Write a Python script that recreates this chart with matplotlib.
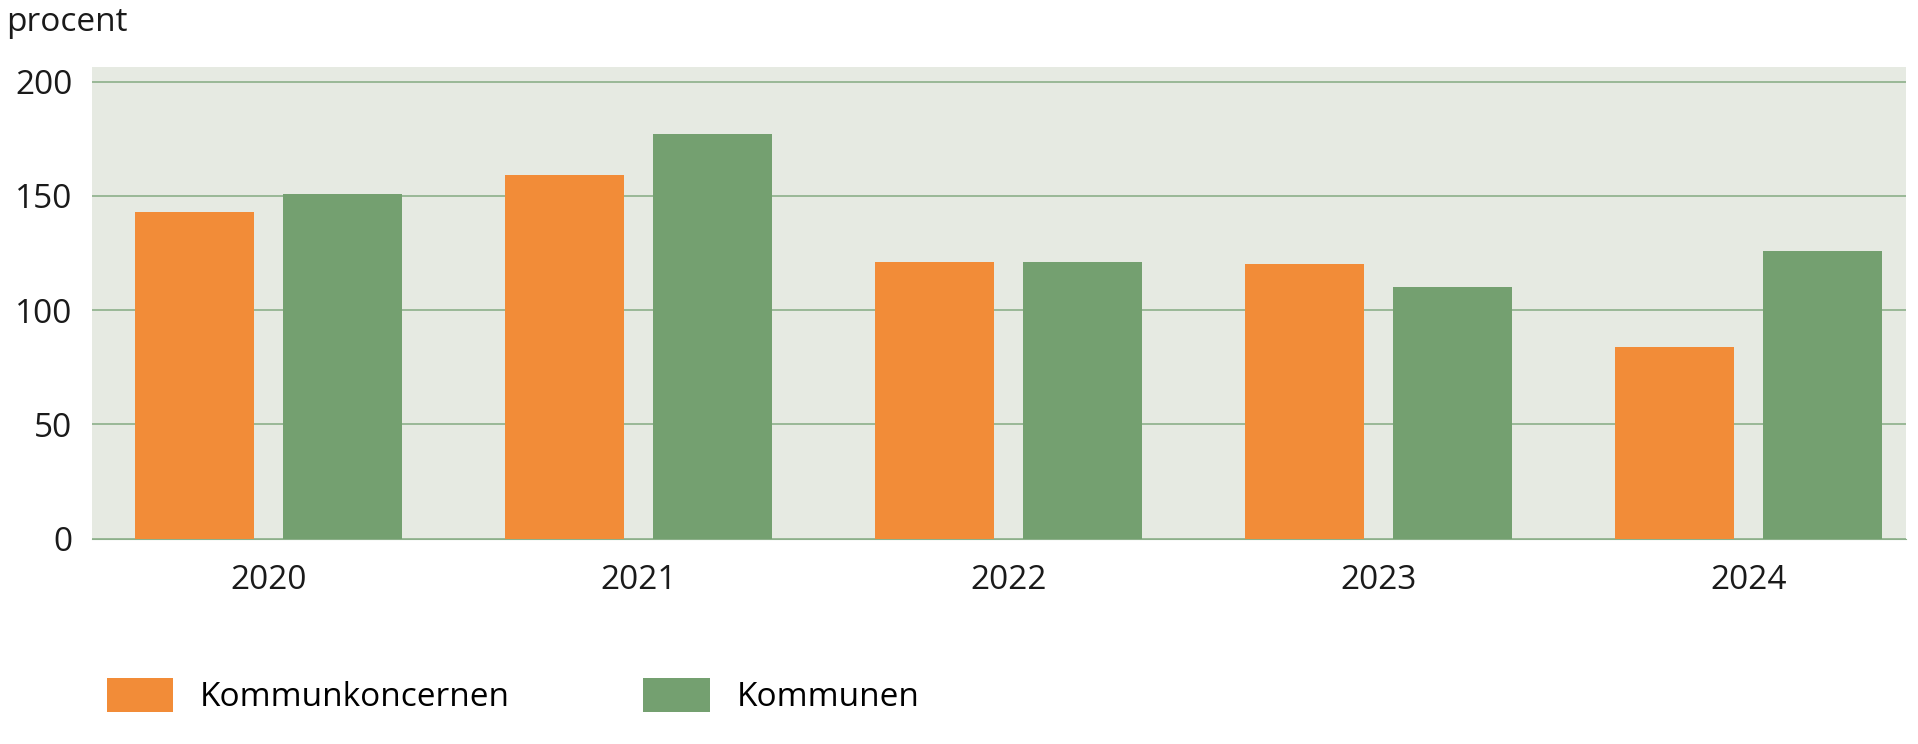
import matplotlib.pyplot as plt
import numpy as np

plt.rcParams['font.family'] = ['Open Sans', 'DejaVu Sans']

years = ['2020', '2021', '2022', '2023', '2024']
koncern = [143, 159, 121, 120, 84]
kommun = [151, 177, 121, 110, 126]

fig = plt.figure(figsize=(19.18, 7.44), dpi=100)
ax = fig.add_axes([0.048, 0.276, 0.946, 0.634])
ax.set_facecolor('#E6EAE2')

x = np.arange(len(years))
ax.bar(x - 0.2, koncern, width=0.32, color='#F28C38', label='Kommunkoncernen', zorder=3)
ax.bar(x + 0.2, kommun, width=0.32, color='#74A070', label='Kommunen', zorder=3)

ax.set_xlim(-0.477, 4.427)
ax.set_ylim(0, 206.4)
ax.set_yticks([0, 50, 100, 150, 200])
ax.set_xticks(x)
ax.set_xticklabels(years)
ax.grid(axis='y', color='#8DB08A', linewidth=1.2, zorder=1)
for s in ['top', 'right', 'left']:
    ax.spines[s].set_visible(False)
ax.spines['bottom'].set_color('#8DB08A')
ax.tick_params(axis='both', length=0, labelsize=24, colors='#1a1a1a')
ax.tick_params(axis='x', pad=18)
ax.tick_params(axis='y', pad=14)

fig.text(0.003, 0.97, 'procent', fontsize=24, va='center', color='#1a1a1a')

fig.legend(loc='lower left', bbox_to_anchor=(0.04, 0.0), ncol=2, frameon=False,
           fontsize=24, handlelength=2.0, handleheight=1.2, columnspacing=4.0,
           handletextpad=0.8)

plt.savefig('out.png', dpi=100)
